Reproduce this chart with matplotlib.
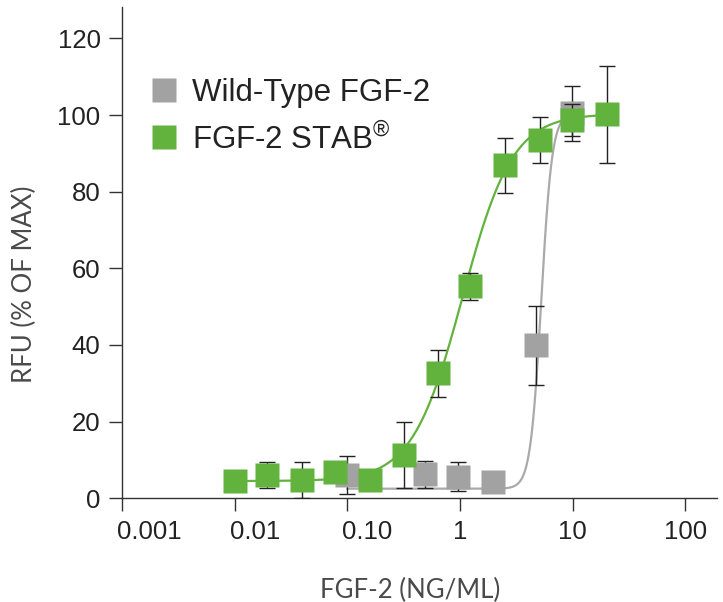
import numpy as np
import matplotlib
matplotlib.use('Agg')
import matplotlib.pyplot as plt
import matplotlib.transforms as mtransforms
from matplotlib.lines import Line2D

# FGF-2 STAB (green)
stab_conc = [0.0101, 0.0195, 0.0398, 0.078, 0.158, 0.32, 0.641, 1.23, 2.52, 5.15, 9.84, 20.2]
stab_rfu = [4.4, 6.0, 4.7, 6.8, 4.8, 11.2, 32.6, 55.3, 86.9, 93.4, 98.6, 100.2]
stab_err = [2.0, 3.4, 4.7, 2.0, 2.0, 8.6, 6.2, 3.5, 7.2, 6.0, 4.2, 12.6]

# wild-type FGF-2 (grey)
wt_conc = [0.1, 0.491, 0.96, 1.97, 4.75, 9.8]
wt_rfu = [6.0, 6.3, 5.6, 4.2, 39.9, 100.4]
wt_err = [5.0, 3.5, 3.8, 2.0, 10.4, 7.2]

# 4PL curve parameters: bottom, top, EC50, hill
stab_fit = (4.5, 100.3, 1.05, 1.95)
wt_fit = (2.5, 100.5, 5.25, 9.0)

xticks = [1e-3, 1e-2, 1e-1, 1, 10, 100]
xticklabels = ['0.001', '0.01', '0.10', '1', '10', '100']
yticks = [0, 20, 40, 60, 80, 100, 120]

green = '#62b23e'
grey = '#a2a2a2'
axis_col = '#333333'


def four_pl(x, bottom, top, ec50, hill):
    return bottom + (top - bottom) / (1 + (ec50 / x) ** hill)


plt.rcParams['font.family'] = ['Liberation Sans', 'DejaVu Sans']
plt.rcParams['mathtext.fontset'] = 'custom'
plt.rcParams['mathtext.rm'] = 'Liberation Sans'

fig = plt.figure(figsize=(7.23, 6.02), dpi=100)
ax = fig.add_axes([122 / 723, 1 - 498.3 / 602, (716.7 - 122) / 723, (498.3 - 7.3) / 602])

# fitted curves
xs = np.logspace(np.log10(stab_conc[0]), np.log10(stab_conc[-1]), 400)
ax.plot(xs, four_pl(xs, *stab_fit), color=green, lw=1.6, zorder=2)
xw = np.logspace(np.log10(wt_conc[0]), np.log10(wt_conc[-1]), 400)
ax.plot(xw, four_pl(xw, *wt_fit), color='#aaaaaa', lw=1.6, zorder=1)

# grey points
ax.errorbar(wt_conc, wt_rfu, yerr=wt_err, fmt='none', ecolor='#222222',
            elinewidth=1.0, capsize=5.6, capthick=1.0, zorder=3)
ax.plot(wt_conc, wt_rfu, ls='none', marker='s', ms=16.6, color=grey, mec='none', zorder=4)

# green points
ax.errorbar(stab_conc, stab_rfu, yerr=stab_err, fmt='none', ecolor='#222222',
            elinewidth=1.0, capsize=5.6, capthick=1.0, zorder=5)
ax.plot(stab_conc, stab_rfu, ls='none', marker='s', ms=16.6, color=green, mec='none', zorder=6)

ax.set_xscale('log')
ax.set_xlim(1e-3, 10 ** 2.277)
ax.set_ylim(0, 128.1)
ax.set_xticks(xticks)
ax.set_xticklabels(xticklabels)
ax.minorticks_off()
ax.set_yticks(yticks)

for side in ['top', 'right']:
    ax.spines[side].set_visible(False)
for side in ['left', 'bottom']:
    ax.spines[side].set_color(axis_col)
    ax.spines[side].set_linewidth(1.0)

ax.tick_params(axis='both', direction='out', length=9.4, width=1.0, color=axis_col,
               labelsize=18.5, labelcolor='#222222')
ax.tick_params(axis='x', pad=6.5)
ax.tick_params(axis='y', pad=6.0)

# the decimal labels sit to the right of their ticks
shift = mtransforms.ScaledTranslation(-0.05, 0, fig.dpi_scale_trans)
for lab in ax.get_xticklabels()[:3]:
    lab.set_horizontalalignment('left')
    lab.set_transform(lab.get_transform() + shift)

ax.set_xlabel('FGF-2 (NG/ML)', family='Lato', fontsize=18.5, color='#4a4a4a')
ax.set_ylabel('RFU (% OF MAX)', family='Lato', fontsize=18.5, color='#4a4a4a')
ax.xaxis.set_label_coords(0.484, -0.187)
ax.xaxis.label.set_va('center')
ax.yaxis.set_label_coords(-0.1645, 0.436)
ax.yaxis.label.set_va('center')

handles = [
    Line2D([], [], ls='none', marker='s', ms=17.3, color=grey, mec='none'),
    Line2D([], [], ls='none', marker='s', ms=17.3, color=green, mec='none'),
]
ax.legend(handles, ['Wild-Type FGF-2', 'FGF-2 STAB$^{®}$'], loc='upper left',
          bbox_to_anchor=(151.6 / 723, 1 - 78 / 602), bbox_transform=fig.transFigure,
          frameon=False, fontsize=22.5, borderpad=0, borderaxespad=0,
          handlelength=0.78, handleheight=0.78, handletextpad=0.5, labelspacing=0.48,
          labelcolor='#222222')

fig.savefig('out.png', dpi=100)
